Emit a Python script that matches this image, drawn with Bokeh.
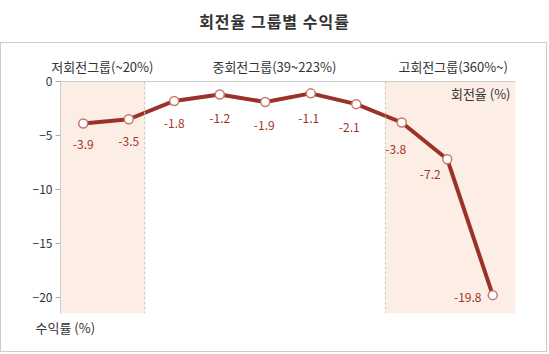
from bokeh.plotting import figure
from bokeh.models import (ColumnDataSource, BoxAnnotation, Span, LinearAxis,
                          FixedTicker, Range1d, Div, Title, Column, Label)
from bokeh.core.properties import value
from bokeh.embed import file_html
from bokeh.resources import INLINE

# ---------------- data ----------------
title = "회전율 그룹별 수익률"
group_names = ["저회전그룹(~20%)", "중회전그룹(39~223%)", "고회전그룹(360%~)"]
returns = [-3.9, -3.5, -1.8, -1.2, -1.9, -1.1, -2.1, -3.8, -7.2, -19.8]
y_ticks = [0, -5, -10, -15, -20]
x_label = "회전율 (%)"
y_label = "수익률 (%)"

# ---------------- style ----------------
FONT = "Noto Sans CJK KR"
LINE_C = "#9b3128"
LABEL_C = "#a3342b"
SHADE_C = "#fdeee5"
GRID_C = "#cccccc"
TEXT_C = "#333333"
PW, PH = 547, 310                     # figure inner size (1px CSS border around)
FL, FR, FT, FB = 59, 514, 38, 270     # frame edges inside the figure
group_edges = [1.35, 6.64]
group_label_pos = [0.42, 4.2, 8.13]
lab_dx = [0, 0, 0, 0, -1, -2, -7, -6, -17, -25]
lab_dy = [21, 22, 23, 24, 23, 25, 23, 27, 15, 2]

xs = list(range(len(returns)))
src = ColumnDataSource(dict(x=xs, y=returns, t=[f"{v:.1f}" for v in returns],
                            dx=lab_dx, dy=lab_dy))

p = figure(width=PW, height=PH, output_backend="svg", toolbar_location=None,
           x_range=Range1d(-0.5, 9.5), y_range=Range1d(-21.5, 0),
           x_axis_location=None,
           min_border_left=FL, min_border_right=PW - FR,
           min_border_top=FT, min_border_bottom=PH - FB,
           styles={"border": "1px solid #cccccc"})
p.outline_line_color = None
p.grid.visible = False
p.background_fill_color = "white"
p.border_fill_color = "white"

ya = p.yaxis[0]
ya.ticker = FixedTicker(ticks=y_ticks)
ya.axis_line_color = GRID_C
ya.major_tick_line_color = "#aaaaaa"
ya.major_tick_out = 5
ya.major_tick_in = 0
ya.minor_tick_line_color = None
ya.major_label_text_font = FONT
ya.major_label_text_font_size = "12px"
ya.major_label_text_color = TEXT_C
ya.major_label_standoff = 3

top = LinearAxis(ticker=FixedTicker(ticks=group_label_pos),
                 major_label_overrides={pos: name for pos, name in zip(group_label_pos, group_names)},
                 major_label_text_font=FONT, major_label_text_font_size="13px",
                 major_label_text_color=TEXT_C, major_label_standoff=0,
                 major_tick_line_color=None, minor_tick_line_color=None,
                 axis_line_color=GRID_C)
p.add_layout(top, "above")

p.add_layout(Title(text=y_label, align="left", offset=-25, text_font=FONT,
                   text_font_size="13px", text_font_style="normal",
                   text_color=TEXT_C, standoff=5), "below")

# shaded groups
p.add_layout(BoxAnnotation(left=-0.5, right=group_edges[0], fill_color=SHADE_C,
                           fill_alpha=1, line_color=None, level="underlay"))
p.add_layout(BoxAnnotation(left=group_edges[1], right=9.5, fill_color=SHADE_C,
                           fill_alpha=1, line_color=None, level="underlay"))
for e in group_edges:
    p.add_layout(Span(location=e, dimension="height", line_color="#c8c8c8",
                      line_dash="3 2", line_width=1))

p.line("x", "y", source=src, line_color=LINE_C, line_width=4)
p.scatter("x", "y", source=src, size=9, fill_color="white",
          line_color="#c8776e", line_width=1.5)
p.text("x", "y", text="t", source=src, x_offset="dx", y_offset="dy",
       text_align="center", text_baseline="middle", text_color=LABEL_C,
       text_font=value(FONT), text_font_size="12px")

p.add_layout(Label(x=FR - 5 - FL, y=FB - 50, x_units="screen", y_units="screen",
                   text=x_label, text_align="right", text_baseline="middle",
                   text_font=FONT, text_font_size="13px", text_color=TEXT_C))

head = Div(text=title, width=549, height=42,
           styles={"font-family": FONT, "font-size": "16px", "font-weight": "bold",
                   "color": TEXT_C, "text-align": "center", "line-height": "42px",
                   "letter-spacing": "1px",
                   "width": "549px", "height": "42px", "margin": "0",
                   "padding": "0", "overflow": "hidden", "box-sizing": "border-box"},
           stylesheets=[":host { margin: 0 !important; padding: 0 !important; } "
                        "div { margin: 0 !important; padding: 0 !important; }"])

layout = Column(children=[head, p], spacing=0,
                stylesheets=[":host { margin: 0 !important; padding: 0 !important; gap: 0 !important; }"])
open("out.html", "w").write(file_html(layout, INLINE))
